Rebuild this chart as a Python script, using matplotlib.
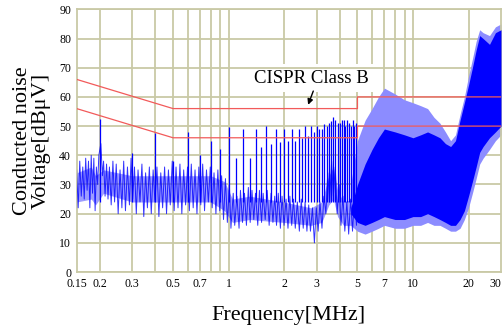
import matplotlib.pyplot as plt
from matplotlib.ticker import FixedLocator, NullFormatter

# CISPR Class B limit lines (quasi-peak and average), MHz / dBuV
qp_f = [0.15, 0.5, 5.0, 5.0, 30.0]
qp_v = [66, 56, 56, 60, 60]
av_f = [0.15, 0.5, 5.0, 5.0, 30.0]
av_v = [56, 46, 46, 50, 50]

# background noise 0.15-5 MHz, alternating local maxima / minima
noise_f = [0.150, 0.153, 0.156, 0.159, 0.162, 0.165, 0.168, 0.171, 0.174, 0.177,
           0.180, 0.183, 0.186, 0.189, 0.192, 0.195, 0.198, 0.203, 0.207, 0.210,
           0.214, 0.218, 0.222, 0.226, 0.231, 0.236, 0.241, 0.246, 0.252, 0.258,
           0.264, 0.270, 0.276, 0.283, 0.290, 0.296, 0.302, 0.309, 0.316, 0.323,
           0.331, 0.339, 0.347, 0.355, 0.363, 0.372, 0.381, 0.390, 0.399, 0.409,
           0.419, 0.429, 0.439, 0.450, 0.461, 0.472, 0.483, 0.495, 0.507, 0.519,
           0.532, 0.545, 0.558, 0.571, 0.585, 0.599, 0.613, 0.628, 0.643, 0.658,
           0.674, 0.690, 0.707, 0.724, 0.741, 0.759, 0.777, 0.796, 0.815, 0.834,
           0.854, 0.875, 0.896, 0.917, 0.939, 0.962, 0.985, 1.01, 1.03, 1.06,
           1.08, 1.11, 1.14, 1.16, 1.19, 1.22, 1.25, 1.28, 1.31, 1.34,
           1.37, 1.40, 1.44, 1.47, 1.51, 1.54, 1.58, 1.62, 1.66, 1.70,
           1.74, 1.78, 1.82, 1.86, 1.91, 1.95, 2.00, 2.05, 2.10, 2.15,
           2.20, 2.25, 2.30, 2.36, 2.42, 2.48, 2.54, 2.60, 2.66, 2.72,
           2.78, 2.85, 2.92, 2.99, 3.06, 3.13, 3.21, 3.29, 3.37, 3.45,
           3.53, 3.62, 3.70, 3.79, 3.88, 3.98, 4.07, 4.17, 4.27, 4.38,
           4.48, 4.59, 4.70, 4.82, 4.94, 5.00]
noise_v = [35, 22, 38, 26, 36, 25, 39, 28, 38, 22,
           40, 27, 39, 21, 36, 30, 40, 44, 33, 38,
           26, 37, 25, 36, 23, 38, 24, 37, 20, 35,
           22, 38, 21, 36, 23, 39, 25, 36, 20, 35,
           24, 37, 19, 34, 22, 36, 20, 35, 24, 36,
           19, 34, 22, 36, 20, 35, 23, 38, 21, 36,
           22, 37, 20, 35, 23, 36, 21, 37, 22, 35,
           20, 36, 23, 37, 21, 35, 24, 36, 22, 34,
           20, 35, 21, 33, 18, 32, 17, 30, 15, 27,
           16, 26, 15, 28, 17, 27, 16, 29, 17, 28,
           18, 27, 16, 28, 17, 27, 18, 28, 16, 27,
           17, 26, 16, 27, 15, 26, 16, 25, 15, 26,
           16, 25, 15, 24, 14, 25, 15, 24, 14, 23,
           14, 22, 10, 22, 14, 24, 15, 26, 20, 34,
           24, 38, 26, 36, 20, 30, 16, 26, 14, 24,
           13, 25, 14, 26, 16, 28]

# dense part of the background noise 0.15-5 MHz
env_f = [0.15, 0.18, 0.19, 0.21, 0.3, 0.5, 0.8, 0.95, 1.05, 1.3, 2.0, 2.8,
         3.2, 3.5, 3.7, 3.9, 4.2, 4.7, 5.0]
env_lo = [24, 25, 23, 27, 24, 24, 24, 21, 17, 18, 17, 16, 17, 23, 25, 19, 16, 16, 17]
env_hi = [34, 36, 33, 35, 33, 33, 33, 31, 25, 26, 24, 22, 24, 33, 36, 28, 24, 25, 28]

# harmonic spikes (MHz, peak dBuV)
spike_f = [0.2, 0.3, 0.4, 0.5, 0.6, 0.7, 0.8, 0.9,
           1.0, 1.1, 1.2, 1.3, 1.4, 1.5, 1.6, 1.7, 1.8, 1.9,
           2.0, 2.1, 2.2, 2.3, 2.4, 2.5, 2.6, 2.7, 2.8, 2.9,
           3.0, 3.1, 3.2, 3.3, 3.4, 3.5, 3.6, 3.7, 3.8, 3.9,
           4.0, 4.1, 4.2, 4.3, 4.4, 4.5, 4.6, 4.7, 4.8, 4.9]
spike_v = [52.5, 40.7, 47.6, 38, 48, 40, 45, 42,
           49.7, 39, 49, 39, 49, 43, 50, 44, 49, 44.7,
           49, 45, 49, 45, 49, 46, 50, 46.7, 50, 48,
           50, 49, 49, 50.8, 50, 51, 51.8, 53, 52, 51,
           51, 52, 52, 50, 52, 51, 50, 52, 50, 51]

# dense emission band 4.6-30 MHz: solid core and lighter outer envelope
band_f = [4.6, 5.0, 5.5, 6.0, 6.5, 7.0, 8.0, 9.0, 10.0, 11.0, 12.0, 13.0, 14.0, 15.0,
          16.0, 17.0, 18.0, 19.0, 20.0, 21.0, 22.0, 23.0, 24.0, 26.0, 28.0, 30.0]
core_lo = [20, 17, 16, 17, 18, 19, 18, 18, 19, 19, 20, 19, 18, 17,
           16, 16, 18, 21, 26, 31, 36, 41, 43, 46, 48, 50]
core_hi = [22, 30, 37, 42, 46, 49, 48, 47, 46, 47, 48, 47, 46, 44,
           43, 45, 52, 58, 64, 70, 76, 81, 80, 78, 82, 83]
outer_lo = [16, 14, 13, 14, 15, 16, 15, 15, 16, 16, 17, 16, 16, 15,
            14, 14, 15, 18, 22, 27, 32, 37, 39, 42, 45, 47]
outer_hi = [30, 45, 52, 56, 60, 63, 61, 59, 58, 57, 56, 53, 51, 48,
            45, 47, 54, 60, 67, 73, 79, 83, 82, 81, 84, 85]

tick_vals = [0.15, 0.2, 0.3, 0.5, 0.7, 1, 2, 3, 5, 7, 10, 20, 30]
tick_text = ['0.15', '0.2', '0.3', '0.5', '0.7', '1', '2', '3', '5', '7', '10', '20', '30']
grid_vals = [0.2, 0.3, 0.4, 0.5, 0.6, 0.7, 0.8, 0.9, 1, 2, 3, 4, 5, 6, 7, 8, 9, 10, 20]

plt.rcParams['font.family'] = ['Liberation Serif', 'DejaVu Serif']
grid_c = '#c9c9a6'
blue = '#0000ff'

fig = plt.figure(figsize=(5.04, 3.33), dpi=100)
ax = fig.add_axes([0.152, 0.183, 0.842, 0.789])
ax.set_xscale('log')
ax.set_xlim(0.15, 30)
ax.set_ylim(0, 90)

# grid
ax.set_yticks(range(0, 91, 10))
ax.xaxis.set_major_locator(FixedLocator(tick_vals))
ax.xaxis.set_minor_locator(FixedLocator([]))
ax.set_xticklabels(tick_text)
ax.xaxis.set_minor_formatter(NullFormatter())
ax.get_xticklabels()[-1].set_horizontalalignment('right')
for g in grid_vals:
    ax.axvline(g, color=grid_c, lw=1.3, zorder=0)
ax.yaxis.grid(True, color=grid_c, lw=1.3, zorder=0)
for s in ax.spines.values():
    s.set_color(grid_c)
    s.set_linewidth(1.3)
ax.tick_params(length=0, labelsize=8.5, pad=4)

# noise trace
ax.fill_between(env_f, env_lo, env_hi, color='#4d4dff', alpha=0.55, lw=0, zorder=2)
ax.fill_between(band_f, outer_lo, outer_hi, color='#8c8cff', lw=0, zorder=2)
ax.fill_between(band_f, core_lo, core_hi, color=blue, lw=0, zorder=3)
ax.plot(noise_f, noise_v, color=blue, lw=0.7, alpha=0.8, zorder=3)
ax.vlines(spike_f, 24, spike_v, color=blue, lw=0.9, zorder=3)

# limits
ax.plot(qp_f, qp_v, color='#f25a5a', lw=0.9, zorder=4)
ax.plot(av_f, av_v, color='#f25a5a', lw=0.9, zorder=4)

ax.text(2.8, 66.4, 'CISPR Class B', ha='center', va='center', fontsize=13.5, zorder=1,
        bbox=dict(facecolor='white', edgecolor='none', pad=4))
ax.annotate('', xy=(2.70, 57.3), xytext=(2.88, 62.0),
            arrowprops=dict(arrowstyle='-|>', color='black', lw=1, mutation_scale=8,
                            shrinkA=0, shrinkB=0), zorder=5)

ax.set_xlabel('Frequency[MHz]', fontsize=16, labelpad=12)
ax.set_ylabel('Conducted noise\nVoltage[dBμV]', fontsize=16, labelpad=6, linespacing=0.95)

fig.savefig('out.png', dpi=100)
